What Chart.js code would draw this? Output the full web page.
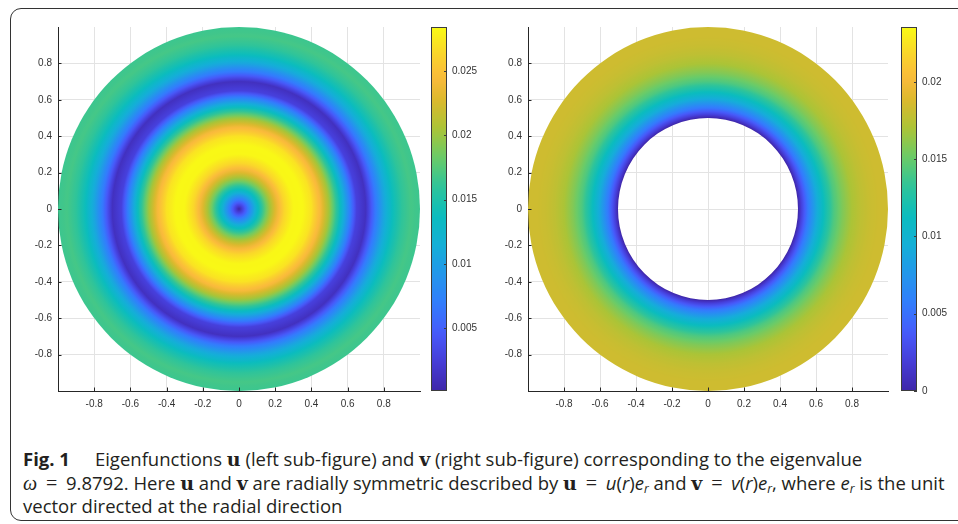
<!DOCTYPE html>
<html>
<head>
<meta charset="utf-8">
<script src="https://cdn.jsdelivr.net/npm/chart.js@4.4.1/dist/chart.umd.min.js"></script>
<style>
  html, body { margin: 0; padding: 0; background: #fff; }
  #page { position: relative; width: 958px; height: 524px; overflow: hidden; background: #fff; }
  #frame { position: absolute; left: 10px; top: 8px; width: 980px; height: 513px;
           border: 1px solid #333; border-radius: 11px; box-sizing: border-box; }
  canvas { position: absolute; top: 0; }
  #caption { position: absolute; left: 23px; top: 447px; color: #231f20;
             font-family: "Open Sans", "Noto Sans", sans-serif; font-size: 18.5px;
             white-space: nowrap; }
  #caption > div { height: 23.5px; line-height: 23.5px; }
  #caption .fig { font-weight: 700; margin-right: 25px; }
  #caption .bv { font-family: "DejaVu Serif", "Liberation Serif", serif; font-weight: 700; font-size: 19px; line-height: 1; }
  #caption .m { font-family: "Liberation Serif", "DejaVu Serif", serif; font-style: italic; font-size: 20px; line-height: 1; }
  #caption .eq { font-family: "Liberation Serif", serif; font-size: 20px; line-height: 1; margin: 0 4px; }
  #caption sub { font-size: 12px; vertical-align: -3px; line-height: 0; }
</style>
</head>
<body>
<div id="page">
  <div id="frame"></div>
  <canvas id="diskU" width="440" height="420" style="left:0px"></canvas>
  <canvas id="barU" width="70" height="420" style="left:425px"></canvas>
  <canvas id="diskV" width="440" height="420" style="left:470px"></canvas>
  <canvas id="barV" width="60" height="420" style="left:895px"></canvas>
  <div id="caption">
    <div><span class="fig">Fig. 1</span>Eigenfunctions <span class="bv">u</span> (left sub-figure) and <span class="bv">v</span> (right sub-figure) corresponding to the eigenvalue</div>
    <div><span class="m">ω</span> <span class="eq">=</span> 9.8792. Here <span class="bv">u</span> and <span class="bv">v</span> are radially symmetric described by <span class="bv">u</span> <span class="eq">=</span> <i>u</i>(<i>r</i>)<i>e<sub>r</sub></i> and <span class="bv">v</span> <span class="eq">=</span> <i>v</i>(<i>r</i>)<i>e<sub>r</sub></i>, where <i>e<sub>r</sub></i> is the unit</div>
    <div>vector directed at the radial direction</div>
  </div>
</div>
<script>
// radial profile of u on the full disk
const uRadius = [0, 0.05, 0.1, 0.15, 0.2, 0.25, 0.3, 0.35, 0.4, 0.45, 0.5,
                 0.55, 0.6, 0.65, 0.7, 0.75, 0.8, 0.85, 0.9, 0.95, 1.0];
const uValues = [0.0002, 0.0067, 0.0130, 0.0184, 0.0229, 0.0264, 0.0282, 0.0283, 0.0271, 0.0242, 0.0200,
                 0.0148, 0.0087, 0.0027, 0.0012, 0.0063, 0.0106, 0.0139, 0.0160, 0.0169, 0.0165];

// radial profile of v on the annulus 0.5 <= r <= 1
const vRadius = [0.5, 0.52, 0.55, 0.6, 0.65, 0.7, 0.75, 0.8, 0.85, 0.9, 0.95, 1.0];
const vValues = [0.0000, 0.0022, 0.0050, 0.0088, 0.0118, 0.0142, 0.0158, 0.0170, 0.0177, 0.0181, 0.0183, 0.0183];

// colour limits and tick labels
const uLimits = [0.0001, 0.02845];
const vLimits = [0, 0.02355];
const axisTicks = [-0.8, -0.6, -0.4, -0.2, 0, 0.2, 0.4, 0.6, 0.8];
const uBarTicks = [0.005, 0.01, 0.015, 0.02, 0.025];
const vBarTicks = [0, 0.005, 0.01, 0.015, 0.02];

// parula colormap
const PARULA = [
  [0.00, [62, 38, 168]],
  [0.08, [70, 60, 215]],
  [0.16, [71, 90, 250]],
  [0.24, [50, 125, 253]],
  [0.32, [35, 150, 235]],
  [0.40, [20, 175, 215]],
  [0.48, [10, 188, 190]],
  [0.56, [45, 196, 155]],
  [0.64, [105, 203, 105]],
  [0.72, [170, 196, 55]],
  [0.80, [220, 185, 45]],
  [0.86, [250, 186, 60]],
  [0.92, [250, 210, 45]],
  [1.00, [249, 251, 20]]
];

function parula(t) {
  t = Math.min(1, Math.max(0, t));
  for (let i = 0; i < PARULA.length - 1; i++) {
    const [t0, c0] = PARULA[i], [t1, c1] = PARULA[i + 1];
    if (t <= t1) {
      const f = (t - t0) / (t1 - t0);
      const c = c0.map((v, k) => Math.round(v + (c1[k] - v) * f));
      return `rgb(${c[0]},${c[1]},${c[2]})`;
    }
  }
  const c = PARULA[PARULA.length - 1][1];
  return `rgb(${c[0]},${c[1]},${c[2]})`;
}

const AXIS_COLOR = '#262626';
Chart.defaults.font.family = '"Liberation Sans", Arial, sans-serif';
Chart.defaults.font.size = 10;
Chart.defaults.color = '#333';
Chart.defaults.animation = false;

// fills the disk (or annulus) with rings coloured from the radial profile
const radialField = {
  id: 'radialField',
  beforeDatasetsDraw(chart, args, opts) {
    const {x, y} = chart.scales;
    const cx = x.getPixelForValue(0), cy = y.getPixelForValue(0);
    const rx = x.getPixelForValue(1) - cx;
    const ry = cy - y.getPixelForValue(1);
    const {radii, values, limits} = opts;
    const toT = v => (v - limits[0]) / (limits[1] - limits[0]);
    const ctx = chart.ctx;
    ctx.save();
    ctx.translate(cx, cy);
    ctx.scale(1, ry / rx);
    const g = ctx.createRadialGradient(0, 0, 0, 0, 0, rx);
    for (let i = 0; i < radii.length - 1; i++) {
      for (let k = 0; k < 8; k++) {
        const f = k / 8;
        g.addColorStop(radii[i] + (radii[i + 1] - radii[i]) * f,
                       parula(toT(values[i] + (values[i + 1] - values[i]) * f)));
      }
    }
    g.addColorStop(1, parula(toT(values[values.length - 1])));
    ctx.fillStyle = g;
    ctx.beginPath();
    ctx.arc(0, 0, rx, 0, Math.PI * 2);
    if (radii[0] > 0) {
      ctx.moveTo(rx * radii[0], 0);
      ctx.arc(0, 0, rx * radii[0], 0, Math.PI * 2, true);
    }
    ctx.fill();
    ctx.restore();
  }
};

// matlab style ticks pointing into the axes
const inwardTicks = {
  id: 'inwardTicks',
  afterDraw(chart) {
    const ctx = chart.ctx, a = chart.chartArea, len = 3.5;
    ctx.save();
    ctx.strokeStyle = AXIS_COLOR;
    ctx.lineWidth = 1;
    ctx.beginPath();
    chart.scales.x.ticks.forEach((t, i) => {
      const px = Math.round(chart.scales.x.getPixelForTick(i)) + 0.5;
      ctx.moveTo(px, a.bottom); ctx.lineTo(px, a.bottom - len);
    });
    chart.scales.y.ticks.forEach((t, i) => {
      const py = Math.round(chart.scales.y.getPixelForTick(i)) + 0.5;
      ctx.moveTo(a.left, py); ctx.lineTo(a.left + len, py);
    });
    ctx.stroke();
    ctx.restore();
  }
};

// outline of the colour bar plus its ticks on the right edge
const barFrame = {
  id: 'barFrame',
  afterDatasetsDraw(chart) {
    const ctx = chart.ctx, a = chart.chartArea, y = chart.scales.y;
    ctx.save();
    ctx.strokeStyle = '#3c3c3c';
    ctx.lineWidth = 1;
    ctx.strokeRect(Math.round(a.left) + 0.5, Math.round(a.top) + 0.5,
                   Math.round(a.right - a.left) - 1, Math.round(a.bottom - a.top) - 1);
    ctx.beginPath();
    y.ticks.forEach((t, i) => {
      const py = Math.round(y.getPixelForTick(i)) + 0.5;
      ctx.moveTo(a.right, py); ctx.lineTo(a.right - 3, py);
    });
    ctx.stroke();
    ctx.restore();
  }
};

function diskChart(id, radii, values, limits, rightPad) {
  const fmt = v => String(Math.round(v * 10) / 10);
  return new Chart(document.getElementById(id), {
    type: 'scatter',
    data: { datasets: [{ data: [], pointRadius: 0 }] },
    options: {
      responsive: false,
      layout: { padding: { top: 27, right: rightPad, left: 0, bottom: 0 } },
      plugins: {
        legend: { display: false },
        tooltip: { enabled: false },
        radialField: { radii, values, limits }
      },
      scales: {
        x: {
          type: 'linear', min: -1, max: 1,
          afterBuildTicks: s => { s.ticks = axisTicks.map(v => ({ value: v })); },
          afterFit: s => { s.height = 29; },
          grid: { color: '#e3e3e3', drawTicks: false },
          border: { display: true, color: AXIS_COLOR, width: 1 },
          ticks: { padding: 7, callback: fmt, maxRotation: 0 }
        },
        y: {
          type: 'linear', min: -1, max: 1,
          afterBuildTicks: s => { s.ticks = axisTicks.map(v => ({ value: v })); },
          afterFit: s => { s.width = 58; },
          grid: { color: '#e3e3e3', drawTicks: false },
          border: { display: true, color: AXIS_COLOR, width: 1 },
          ticks: { padding: 6, callback: fmt }
        }
      }
    },
    plugins: [radialField, inwardTicks]
  });
}

function colorBar(id, limits, ticks, axisWidth) {
  return new Chart(document.getElementById(id), {
    type: 'bar',
    data: {
      labels: [''],
      datasets: [{
        data: [limits],
        barPercentage: 1,
        categoryPercentage: 1,
        borderWidth: 0,
        backgroundColor: c => {
          const area = c.chart.chartArea;
          if (!area) return parula(0.5);
          const y = c.chart.scales.y;
          const g = c.chart.ctx.createLinearGradient(0, y.getPixelForValue(limits[0]), 0, y.getPixelForValue(limits[1]));
          for (let i = 0; i <= 40; i++) g.addColorStop(i / 40, parula(i / 40));
          return g;
        }
      }]
    },
    options: {
      responsive: false,
      layout: { padding: { top: 27, bottom: 29, left: 6, right: 0 } },
      plugins: { legend: { display: false }, tooltip: { enabled: false } },
      scales: {
        x: { display: false },
        y: {
          position: 'right', min: limits[0], max: limits[1],
          afterBuildTicks: s => { s.ticks = ticks.map(v => ({ value: v })); },
          afterFit: s => { s.width = axisWidth; },
          grid: { display: false, drawTicks: false },
          border: { display: false },
          ticks: { padding: 5, callback: v => String(+v.toFixed(3)) }
        }
      }
    },
    plugins: [barFrame]
  });
}

diskChart('diskU', uRadius, uValues, uLimits, 20);
colorBar('barU', uLimits, uBarTicks, 48);
diskChart('diskV', vRadius, vValues, vLimits, 22);
colorBar('barV', vLimits, vBarTicks, 38);
</script>
</body>
</html>
